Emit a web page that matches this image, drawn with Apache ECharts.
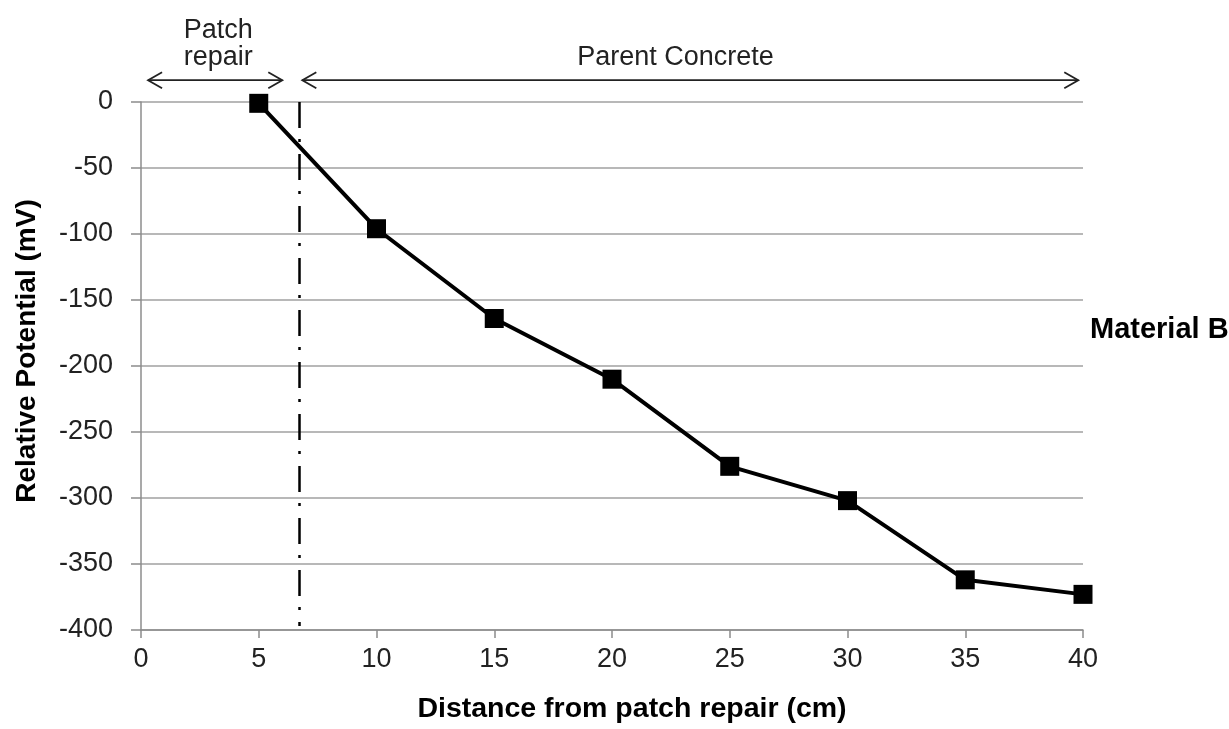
<!DOCTYPE html>
<html>
<head>
<meta charset="utf-8">
<script src="https://cdn.jsdelivr.net/npm/echarts@6/dist/echarts.min.js"></script>
<style>
html,body{margin:0;padding:0;background:#fff;width:1229px;height:729px;overflow:hidden;}
#c{width:1229px;height:729px;}
</style>
</head>
<body>
<div id="c"></div>
<script>
const distances = [5, 10, 15, 20, 25, 30, 35, 40];
const potentials = [-1, -96, -164, -210, -276, -302, -362, -373];
const boundaryX = 6.7;
const patchArrow = [0.3, 6.0];
const parentArrow = [6.85, 39.8];
const parentLabelX = 22.7;
const arrowY = 16.5;

const chart = echarts.init(document.getElementById('c'));
const FONT = 'Liberation Sans, Arial, sans-serif';
chart.setOption({
  animation: false,
  grid: {left: 141, right: 146, top: 102, bottom: 92},
  xAxis: {
    type: 'value', min: 0, max: 40, interval: 5,
    name: 'Distance from patch repair (cm)', nameLocation: 'middle', nameGap: 65,
    nameTextStyle: {fontFamily: FONT, fontSize: 28.5, fontWeight: 'bold', color: '#000', padding: [0, 0, 0, 40]},
    axisLine: {onZero: false, lineStyle: {color: '#8c8c8c', width: 1.5}},
    axisTick: {show: true, length: 8, lineStyle: {color: '#8c8c8c', width: 1.5}},
    axisLabel: {fontFamily: FONT, fontSize: 27, color: '#222', margin: 16},
    splitLine: {show: false}
  },
  yAxis: {
    type: 'value', min: -400, max: 0, interval: 50,
    name: 'Relative Potential (mV)', nameLocation: 'middle', nameGap: 100,
    nameTextStyle: {fontFamily: FONT, fontSize: 28, fontWeight: 'bold', color: '#000', padding: [0, 0, 0, 30]},
    axisLine: {show: true, lineStyle: {color: '#8c8c8c', width: 1.5}},
    axisTick: {show: true, length: 10, lineStyle: {color: '#8c8c8c', width: 1.5}},
    axisLabel: {fontFamily: FONT, fontSize: 27, color: '#222', margin: 28},
    splitLine: {show: true, lineStyle: {color: '#a0a0a0', width: 1.5}}
  },
  series: [{
    type: 'line',
    data: distances.map((d, i) => [d, potentials[i]]),
    symbol: 'rect', symbolSize: 19,
    lineStyle: {color: '#000', width: 4},
    itemStyle: {color: '#000'},
    clip: false,
    markLine: {
      silent: true, symbol: 'none', label: {show: false},
      lineStyle: {color: '#000', width: 2.5, type: [26, 11, 3, 12]},
      data: [[{coord: [boundaryX, 0]}, {coord: [boundaryX, -397]}]]
    }
  }]
});

function px(x, y) { return chart.convertToPixel({gridIndex: 0}, [x, y]); }
function arrow(x0, x1) {
  const a = px(x0, arrowY), b = px(x1, arrowY);
  const y = a[1], h = 8, w = 14;
  const st = {stroke: '#222', lineWidth: 1.8, fill: null};
  return [
    {type: 'line', shape: {x1: a[0], y1: y, x2: b[0], y2: y}, style: st},
    {type: 'polyline', shape: {points: [[a[0] + w, y - h], [a[0], y], [a[0] + w, y + h]]}, style: st},
    {type: 'polyline', shape: {points: [[b[0] - w, y - h], [b[0], y], [b[0] - w, y + h]]}, style: st}
  ];
}
const pa = px((patchArrow[0] + patchArrow[1]) / 2, arrowY);
const pc = px(parentLabelX, arrowY);
const right = px(40, -175);
chart.setOption({
  graphic: [
    ...arrow(patchArrow[0], patchArrow[1]),
    ...arrow(parentArrow[0], parentArrow[1]),
    {type: 'text', x: pa[0] + 3, y: pa[1] - 50, style: {text: 'Patch', font: '27px ' + FONT, fill: '#222', align: 'center', verticalAlign: 'middle'}},
    {type: 'text', x: pa[0] + 3, y: pa[1] - 23, style: {text: 'repair', font: '27px ' + FONT, fill: '#222', align: 'center', verticalAlign: 'middle'}},
    {type: 'text', x: pc[0], y: pa[1] - 23, style: {text: 'Parent Concrete', font: '27px ' + FONT, fill: '#222', align: 'center', verticalAlign: 'middle'}},
    {type: 'text', x: right[0] + 7, y: 330, style: {text: 'Material B', font: 'bold 29px ' + FONT, fill: '#000', align: 'left', verticalAlign: 'middle'}}
  ]
});
</script>
</body>
</html>
